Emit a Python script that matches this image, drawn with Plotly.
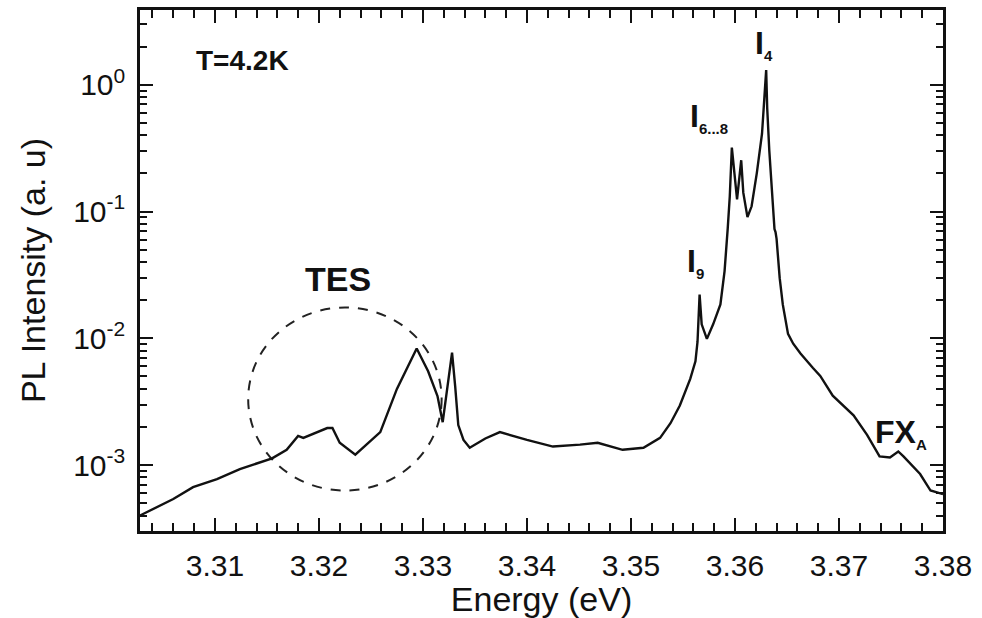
import plotly.graph_objects as go

# ---- data ----
energy = [3.3028, 3.3060, 3.3079, 3.3102, 3.3124, 3.3155, 3.3169, 3.3180, 3.3185, 3.3208,
          3.3213, 3.3220, 3.3235, 3.3259, 3.3275, 3.3294, 3.3305, 3.3314, 3.3319, 3.3325,
          3.3328, 3.3331, 3.3334, 3.3339, 3.3345, 3.3360, 3.3374, 3.3400, 3.3425, 3.3451,
          3.3468, 3.3492, 3.3512, 3.3528, 3.3538, 3.3547, 3.3557, 3.3562, 3.3564, 3.3566,
          3.3568, 3.3573, 3.3579, 3.3586, 3.3590, 3.3593, 3.3595, 3.3597, 3.3600, 3.3602,
          3.3606, 3.3608, 3.3612, 3.3616, 3.3621, 3.3626, 3.3630, 3.3631, 3.3633, 3.3636,
          3.3638, 3.3639, 3.3640, 3.3643, 3.3646, 3.3651, 3.3656, 3.3663, 3.3669, 3.3675,
          3.3682, 3.3694, 3.3714, 3.3727, 3.3739, 3.3749, 3.3757, 3.3762, 3.3778, 3.3788,
          3.3800]
intensity = [4.0e-4, 5.4e-4, 6.7e-4, 7.75e-4, 9.3e-4, 1.13e-3, 1.32e-3, 1.70e-3, 1.64e-3, 1.96e-3,
             1.96e-3, 1.50e-3, 1.21e-3, 1.82e-3, 3.99e-3, 8.3e-3, 5.5e-3, 3.5e-3, 2.18e-3, 5.0e-3,
             7.7e-3, 4.2e-3, 2.07e-3, 1.58e-3, 1.37e-3, 1.62e-3, 1.82e-3, 1.58e-3, 1.40e-3, 1.45e-3,
             1.50e-3, 1.32e-3, 1.37e-3, 1.64e-3, 2.14e-3, 2.95e-3, 4.78e-3, 6.58e-3, 9.4e-3, 2.21e-2,
             1.29e-2, 9.9e-3, 1.29e-2, 1.85e-2, 3.39e-2, 7.29e-2, 0.1314, 0.320, 0.178, 0.1245,
             0.254, 0.141, 0.0903, 0.110, 0.201, 0.411, 1.305, 0.652, 0.303, 0.124,
             0.0727, 0.0689, 0.0609, 0.0298, 0.01843, 0.01083, 9.07e-3, 7.59e-3, 6.58e-3, 5.83e-3,
             5.05e-3, 3.53e-3, 2.47e-3, 1.73e-3, 1.17e-3, 1.15e-3, 1.28e-3, 1.17e-3, 8.5e-4, 6.3e-4,
             5.9e-4]

x_tick_vals = [3.31, 3.32, 3.33, 3.34, 3.35, 3.36, 3.37, 3.38]
x_tick_text = ["3.31", "3.32", "3.33", "3.34", "3.35", "3.36", "3.37", "3.38"]
y_tick_vals = [1e-3, 1e-2, 1e-1, 1e0]
y_tick_text = ["10<sup>-3</sup>", "10<sup>-2</sup>", "10<sup>-1</sup>", "10<sup>0</sup>"]

x_range = [3.3028, 3.38]
y_range_log = [-3.52, 0.59]

# TES circle bounds (data units)
tes_x = [3.3132, 3.3318]
tes_y = [6.3e-4, 1.75e-2]

FONT = "Liberation Sans, Arial, Helvetica, sans-serif"

x_minor = [round(3.302 + 0.002 * i, 3) for i in range(0, 40)]
x_minor = [v for v in x_minor if x_range[0] < v < x_range[1] and round(v * 100, 6) % 1 != 0]
y_minor = [m * 10 ** e for e in range(-4, 1) for m in range(2, 10)]

fig = go.Figure()
fig.add_trace(go.Scatter(x=energy, y=intensity, mode="lines",
                         line=dict(color="#111111", width=2.4), showlegend=False,
                         hoverinfo="skip"))

fig.add_shape(type="circle", xref="x", yref="y",
              x0=tes_x[0], x1=tes_x[1], y0=tes_y[0], y1=tes_y[1],
              line=dict(color="#222222", width=2, dash="10px,9px"), layer="below")

ann_font = dict(family=FONT, size=32, color="#111111")
sub = lambda s: "<sub><span style='font-size:15px'>%s</span></sub>" % s
annotations = [
    dict(x=3.3127, y=0.194, text="<b>T=4.2K</b>", xanchor="center", yanchor="middle",
         font=dict(family=FONT, size=28, color="#111111")),
    dict(x=3.3218, y=-1.532, text="<b>TES</b>", xanchor="center", yanchor="middle",
         font=dict(family=FONT, size=34, color="#111111")),
    dict(x=3.3617, y=0.49, text="<b>I</b>" + sub("<b>4</b>"), xanchor="left", yanchor="top",
         font=ann_font),
    dict(x=3.3555, y=-0.085, text="<b>I</b>" + sub("<b>6...8</b>"), xanchor="left", yanchor="top",
         font=ann_font),
    dict(x=3.3552, y=-1.23, text="<b>I</b>" + sub("<b>9</b>"), xanchor="left", yanchor="top",
         font=ann_font),
    dict(x=3.3733, y=-2.578, text="<b>FX</b>" + sub("<b>A</b>"), xanchor="left", yanchor="top",
         font=ann_font),
]
for a in annotations:
    a.update(xref="x", yref="y", showarrow=False)
fig.update_layout(annotations=annotations)

axis_common = dict(showline=True, linecolor="#111111", linewidth=2.5, mirror="allticks",
                   ticks="inside", ticklen=13, tickwidth=2, tickcolor="#111111",
                   showgrid=False, zeroline=False,
                   tickfont=dict(family=FONT, size=30, color="#111111"))

fig.update_xaxes(range=x_range, tickmode="array", tickvals=x_tick_vals, ticktext=x_tick_text,
                 minor=dict(ticks="inside", ticklen=8, tickwidth=2, tickcolor="#111111",
                            tickmode="array", tickvals=x_minor, showgrid=False),
                 title=dict(text="Energy (eV)", font=dict(family=FONT, size=34, color="#111111"),
                            standoff=5),
                 ticklabelstandoff=6,
                 **axis_common)
fig.update_yaxes(type="log", range=y_range_log, tickmode="array", tickvals=y_tick_vals,
                 ticktext=y_tick_text,
                 minor=dict(ticks="inside", ticklen=7, tickwidth=2, tickcolor="#111111",
                            tickmode="array", tickvals=y_minor, showgrid=False),
                 title=dict(text="PL Intensity (a. u)", font=dict(family=FONT, size=34, color="#111111"),
                            standoff=18),
                 ticklabelstandoff=6,
                 **axis_common)

fig.update_layout(width=982, height=618, margin=dict(l=140, r=39, t=7, b=80),
                  paper_bgcolor="white", plot_bgcolor="white")

fig.write_html("out.html")
